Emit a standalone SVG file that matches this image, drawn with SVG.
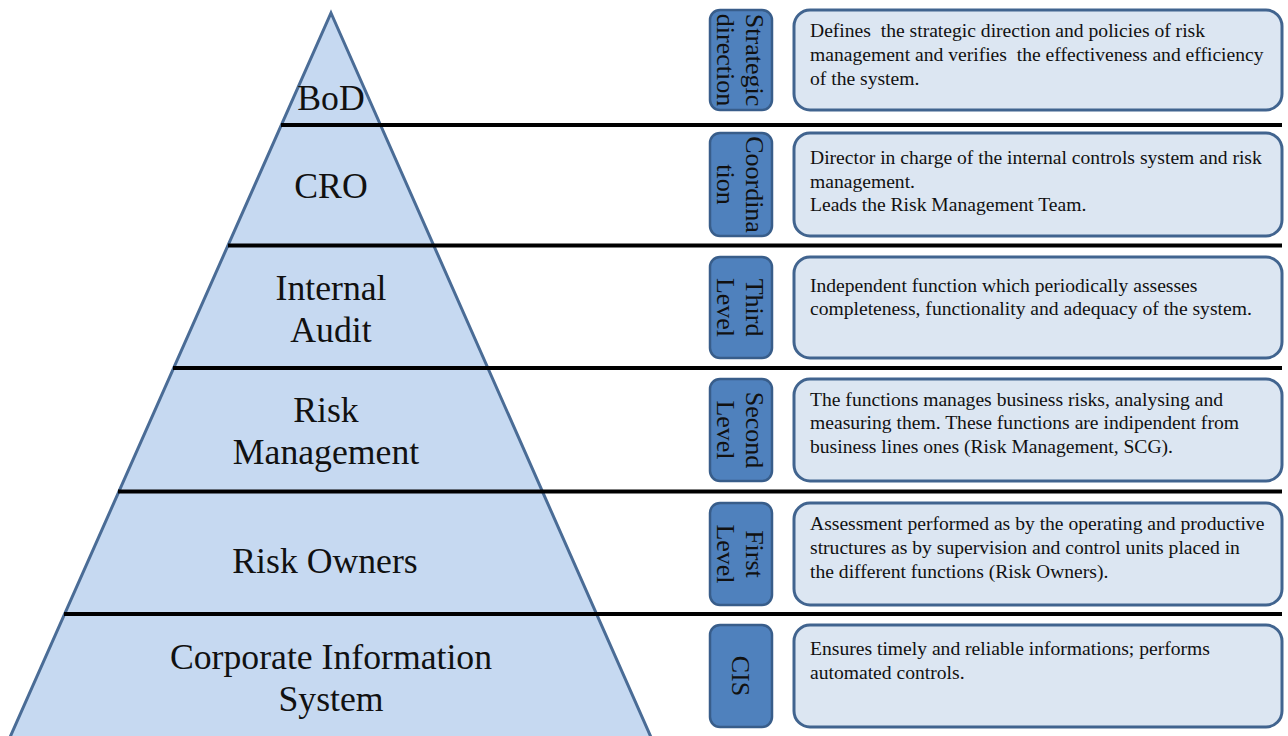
<svg xmlns="http://www.w3.org/2000/svg" width="1288" height="736" viewBox="0 0 1288 736">
  <style>
    .pyr { fill: #c6d9f1; stroke: #4a6c96; stroke-width: 3; stroke-linejoin: miter; }
    .tier { font-family: "Liberation Serif", "Times New Roman", serif; font-size: 35.7px; fill: #111; text-anchor: middle; }
    .sep { stroke: #000; stroke-width: 4; fill: none; }
    .tag { fill: #4f81bd; stroke: #385d8a; stroke-width: 2.5; }
    .tagtxt { font-family: "Liberation Serif", "Times New Roman", serif; font-size: 26px; fill: #111; text-anchor: middle; }
    .desc { fill: #dce6f2; stroke: #41648f; stroke-width: 3; }
    .desctxt { font-family: "Liberation Serif", "Times New Roman", serif; font-size: 19.6px; fill: #111; white-space: pre; }
  </style>

  <rect width="1288" height="736" fill="#ffffff"/>

  <!-- pyramid body -->
  <g id="pyramid">
    <polygon class="pyr" points="331,13 654,744 7,744"/>
  </g>

  <!-- tier separators -->
  <g id="connectors">
    <line class="sep" x1="281" y1="125" x2="1282" y2="125"/>
    <line class="sep" x1="228" y1="245.5" x2="1282" y2="245.5"/>
    <line class="sep" x1="173" y1="368" x2="1282" y2="368"/>
    <line class="sep" x1="118" y1="491.5" x2="1282" y2="491.5"/>
    <line class="sep" x1="64" y1="614" x2="1282" y2="614"/>
  </g>

  <!-- tier 1 -->
  <g id="bod">
    <text class="tier" x="331" y="110">BoD</text>
    <rect class="tag" x="710" y="10" width="62" height="100" rx="10"/>
    <g transform="translate(741,60) rotate(90)">
      <text class="tagtxt" x="0" y="-5">Strategic</text>
      <text class="tagtxt" x="0" y="24">direction</text>
    </g>
    <rect class="desc" x="794" y="10" width="488" height="100" rx="16"/>
    <text class="desctxt" x="810" y="37">Defines  the strategic direction and policies of risk</text>
    <text class="desctxt" x="810" y="61">management and verifies  the effectiveness and efficiency</text>
    <text class="desctxt" x="810" y="85">of the system.</text>
  </g>

  <!-- tier 2 -->
  <g id="cro">
    <text class="tier" x="331" y="198">CRO</text>
    <rect class="tag" x="710" y="133" width="62" height="103" rx="10"/>
    <g transform="translate(741,184.5) rotate(90)">
      <text class="tagtxt" x="0" y="-5">Coordina</text>
      <text class="tagtxt" x="0" y="24">tion</text>
    </g>
    <rect class="desc" x="794" y="133" width="488" height="103" rx="16"/>
    <text class="desctxt" x="810" y="164">Director in charge of the internal controls system and risk</text>
    <text class="desctxt" x="810" y="187.5">management.</text>
    <text class="desctxt" x="810" y="211">Leads the Risk Management Team.</text>
  </g>

  <!-- tier 3 -->
  <g id="internal-audit">
    <text class="tier" x="331" y="300">Internal</text>
    <text class="tier" x="331" y="342">Audit</text>
    <rect class="tag" x="710" y="257" width="62" height="101" rx="10"/>
    <g transform="translate(741,307.5) rotate(90)">
      <text class="tagtxt" x="0" y="-5">Third</text>
      <text class="tagtxt" x="0" y="24">Level</text>
    </g>
    <rect class="desc" x="794" y="257" width="488" height="101" rx="16"/>
    <text class="desctxt" x="810" y="292">Independent function which periodically assesses</text>
    <text class="desctxt" x="810" y="315">completeness, functionality and adequacy of the system.</text>
  </g>

  <!-- tier 4 -->
  <g id="risk-management">
    <text class="tier" x="326" y="422">Risk</text>
    <text class="tier" x="326" y="464">Management</text>
    <rect class="tag" x="710" y="379" width="62" height="102" rx="10"/>
    <g transform="translate(741,430) rotate(90)">
      <text class="tagtxt" x="0" y="-5">Second</text>
      <text class="tagtxt" x="0" y="24">Level</text>
    </g>
    <rect class="desc" x="794" y="379" width="488" height="102" rx="16"/>
    <text class="desctxt" x="810" y="406">The functions manages business risks, analysing and</text>
    <text class="desctxt" x="810" y="429">measuring them. These functions are indipendent from</text>
    <text class="desctxt" x="810" y="453">business lines ones (Risk Management, SCG).</text>
  </g>

  <!-- tier 5 -->
  <g id="risk-owners">
    <text class="tier" x="325" y="573">Risk Owners</text>
    <rect class="tag" x="710" y="503" width="62" height="102" rx="10"/>
    <g transform="translate(741,554) rotate(90)">
      <text class="tagtxt" x="0" y="-5">First</text>
      <text class="tagtxt" x="0" y="24">Level</text>
    </g>
    <rect class="desc" x="794" y="503" width="488" height="102" rx="16"/>
    <text class="desctxt" x="810" y="530">Assessment performed as by the operating and productive</text>
    <text class="desctxt" x="810" y="554">structures as by supervision and control units placed in</text>
    <text class="desctxt" x="810" y="578">the different functions (Risk Owners).</text>
  </g>

  <!-- tier 6 -->
  <g id="cis">
    <text class="tier" x="331" y="669">Corporate Information</text>
    <text class="tier" x="331" y="711">System</text>
    <rect class="tag" x="710" y="625" width="62" height="102" rx="10"/>
    <g transform="translate(741,676) rotate(90)">
      <text class="tagtxt" x="0" y="9">CIS</text>
    </g>
    <rect class="desc" x="794" y="625" width="488" height="102" rx="16"/>
    <text class="desctxt" x="810" y="655">Ensures timely and reliable informations; performs</text>
    <text class="desctxt" x="810" y="679">automated controls.</text>
  </g>
</svg>
